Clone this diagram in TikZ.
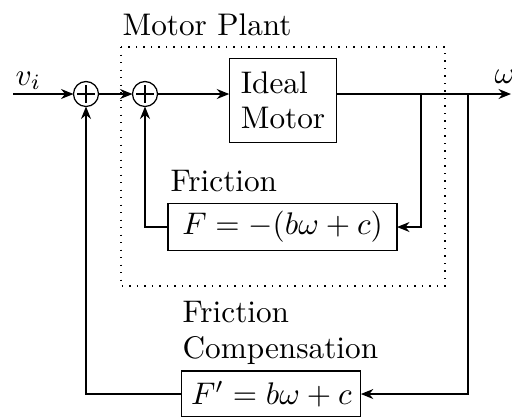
\documentclass[tikz,border=0pt]{standalone}
\usetikzlibrary{arrows.meta}
\begin{document}
\begin{tikzpicture}[x=0.32pt,y=-0.32pt,
  blk/.style={draw, inner sep=0pt, outer sep=0pt},
  sumnode/.style={draw, circle, minimum size=8pt, inner sep=0pt, outer sep=0pt,
    path picture={
      \draw (path picture bounding box.center) ++(-2.8pt,0pt) -- ++(5.6pt,0pt);
      \draw (path picture bounding box.center) ++(0pt,-2.8pt) -- ++(0pt,5.6pt);}},
  sig/.style={-{Stealth[length=4pt,width=3.2pt]}},
  lbl/.style={inner sep=0pt, anchor=base west}]
\useasboundingbox (0,0) rectangle (512,416);
% dotted plant boundary
\draw[dotted] (121,47) rectangle (445,286);
% nodes
\node[sumnode] (s1) at (86,94) {};
\node[sumnode] (s2) at (145,94) {};
\node[blk, minimum width=34.4pt, minimum height=26.9pt, align=left] (motor) at (283,100.3) {Ideal\\[-0.6pt]Motor};
\node[blk, minimum width=73.3pt, minimum height=15pt] (fric) at (282.5,227) {$F=-(b\omega+c)$};
\node[blk, minimum width=57.3pt, minimum height=14.7pt] (comp) at (271.3,394) {$F'=b\omega+c$};
% labels
\node[lbl] (mp) at (122,35) {Motor Plant};
\node[lbl] (fr) at (170,191) {Friction};
\node[lbl] (fc1) at (182,322) {Friction};
\node[lbl] (fc2) at (182,358) {Compensation};
\node[lbl] (vi) at (15,85) {$v_i$};
\node[lbl] (om) at (494,83) {$\omega$};
% coordinates
\coordinate (in) at (13,94);
\coordinate (out) at (511,94);
\coordinate (b1) at (421,94);
\coordinate (b2) at (468,94);
% connectors
\draw[sig] (in) -- (s1);
\draw[sig] (s1) -- (s2);
\draw[sig] (s2) -- (s2 -| motor.west);
\draw[sig] (s2 -| motor.east) -- (out);
\draw[sig] (b1) |- (fric.east);
\draw[sig] (fric.west) -| (s2.south);
\draw[sig] (b2) |- (comp.east);
\draw[sig] (comp.west) -| (s1.south);
\end{tikzpicture}
\end{document}
